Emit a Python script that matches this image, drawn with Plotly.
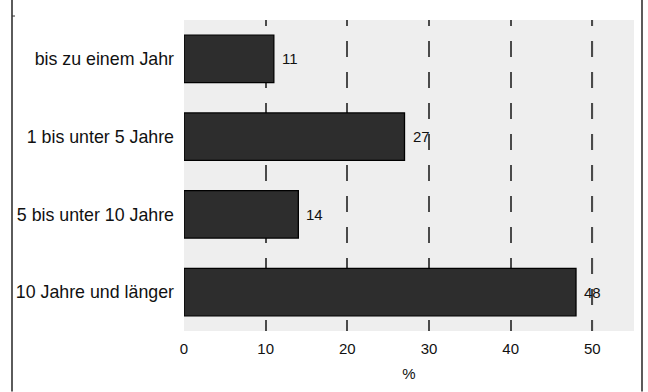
import plotly.graph_objects as go

# Dauer der Zugehörigkeit, Anteile in Prozent
categories = ["bis zu einem Jahr", "1 bis unter 5 Jahre", "5 bis unter 10 Jahre", "10 Jahre und länger"]
values = [11, 27, 14, 48]
tick_values = [0, 10, 20, 30, 40, 50]
x_title = "%"

W, H = 648, 392
M_L, M_R, M_T, M_B = 184, 14, 20, 59
plot_w = W - M_L - M_R
plot_h = H - M_T - M_B

GRID_COLOR = "#4a4a4a"
# dash pattern measured from the top edge of the plot area
GRID_DASH = "6px,15px" + ",16px,15px" * 11

fig = go.Figure()
fig.add_trace(go.Bar(
    y=categories,
    x=values,
    orientation="h",
    marker=dict(color="#2d2d2d", line=dict(color="#000000", width=1.3)),
    width=0.61,
    hoverinfo="skip",
))

# value labels next to each bar
for cat, v in zip(categories, values):
    fig.add_annotation(
        x=v, y=cat, text=str(v), showarrow=False,
        xanchor="left", yanchor="middle", xshift=6,
        font=dict(family="Liberation Sans, Arial", size=15, color="#111111"),
    )

# gridlines that no bar reaches are repeated on top so they cross the labels
for t in tick_values:
    if t > max(values):
        fig.add_shape(
            type="line", xref="x", yref="paper", x0=t, x1=t, y0=1, y1=0,
            line=dict(color=GRID_COLOR, width=1.5, dash=GRID_DASH), layer="above",
        )

# frame lines at the left and right edge of the figure
def px_to_paper_x(px):
    return (px - M_L) / plot_w

def px_to_paper_y(py):
    return (H - M_B - py) / plot_h

for fx in (12, 642):
    fig.add_shape(
        type="line", xref="paper", yref="paper",
        x0=px_to_paper_x(fx), x1=px_to_paper_x(fx),
        y0=px_to_paper_y(-2), y1=px_to_paper_y(H + 2),
        line=dict(color="#333333", width=1.6), layer="above",
    )
fig.add_shape(
    type="line", xref="paper", yref="paper",
    x0=px_to_paper_x(12), x1=px_to_paper_x(15),
    y0=px_to_paper_y(16), y1=px_to_paper_y(16),
    line=dict(color="#333333", width=1), layer="above",
)

fig.update_layout(
    width=W, height=H,
    margin=dict(l=M_L, r=M_R, t=M_T, b=M_B, pad=0),
    paper_bgcolor="#ffffff",
    plot_bgcolor="#eeeeee",
    showlegend=False,
    bargap=0.39,
    font=dict(family="Liberation Sans, Arial", color="#111111"),
    xaxis=dict(
        range=[0, 55.1],
        tickvals=tick_values,
        ticktext=[str(t) for t in tick_values],
        showgrid=True, gridcolor=GRID_COLOR, griddash=GRID_DASH, gridwidth=1.5,
        zeroline=False, showline=False, ticks="",
        tickfont=dict(size=15),
        ticklabelstandoff=7,
        title=dict(text=x_title, font=dict(size=15), standoff=12),
        fixedrange=True,
    ),
    yaxis=dict(
        categoryorder="array",
        categoryarray=categories[::-1],
        showgrid=False, zeroline=False, showline=False, ticks="",
        tickfont=dict(size=17.8),
        ticklabelstandoff=9,
        fixedrange=True,
    ),
)

fig.write_html("out.html")
